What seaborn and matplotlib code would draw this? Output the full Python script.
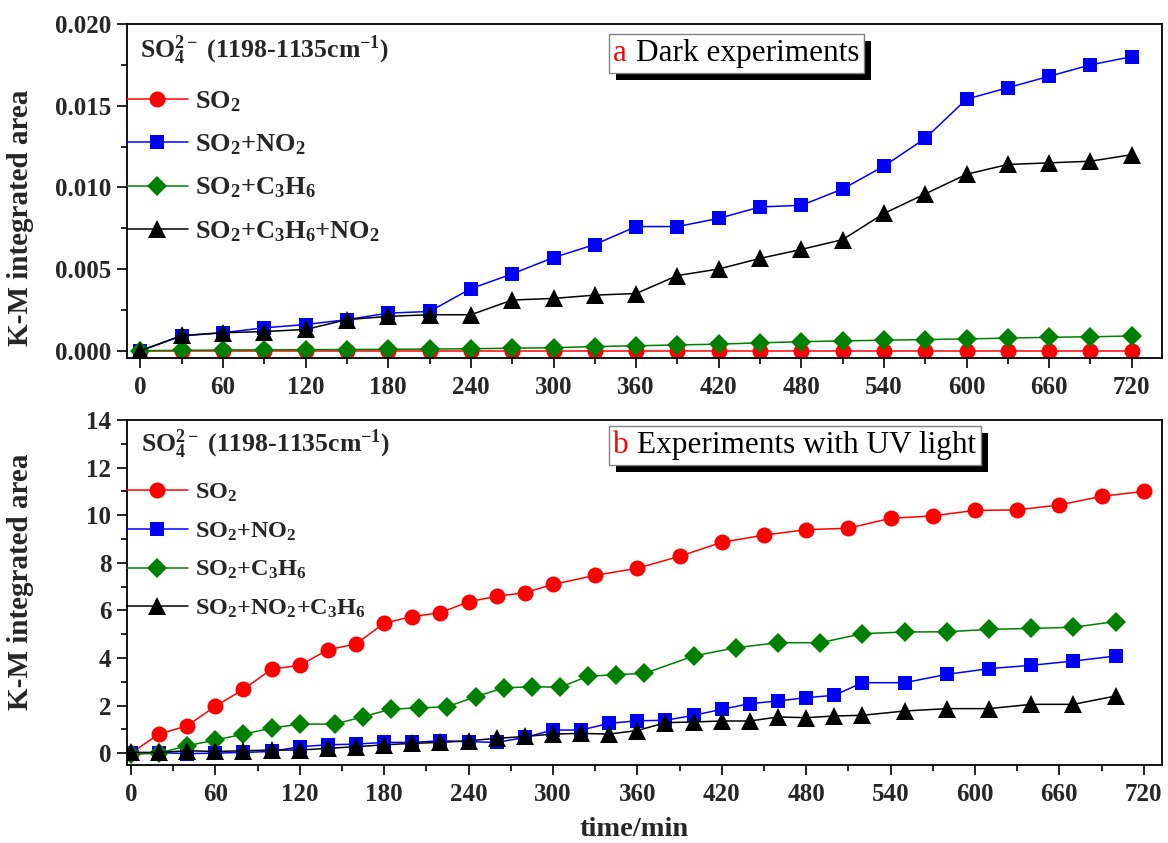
import numpy as np
import seaborn as sns
import matplotlib.pyplot as plt
import matplotlib.patheffects as pe
from matplotlib.ticker import MultipleLocator, FormatStrFormatter
from matplotlib.offsetbox import TextArea, HPacker, AnnotationBbox

# panel a - dark experiments, sampled every 30 min
dark_time = [0, 30, 60, 90, 120, 150, 180, 210, 240, 270, 300, 330, 360,
             390, 420, 450, 480, 510, 540, 570, 600, 630, 660, 690, 720]
dark_so2 = [0.0, 0.0, 0.0, 0.0, 0.0, 0.0, 0.0, 0.0, 0.0, 0.0, 0.0, 0.0, 0.0,
            0.0, 0.0, 0.0, 0.0, 0.0, 0.0, 0.0, 0.0, 0.0, 0.0, 0.0, 0.0]
dark_no2 = [0.0, 0.0009, 0.0011, 0.0014, 0.0016, 0.0019, 0.0023, 0.0024, 0.0038,
            0.0047, 0.0057, 0.0065, 0.0076, 0.0076, 0.0081, 0.0088, 0.0089, 0.0099,
            0.0113, 0.0130, 0.0154, 0.0161, 0.0168, 0.0175, 0.0180]
dark_c3h6 = [0.0, 0.00002, 0.00004, 0.00005, 0.00006, 0.00007, 0.00008, 0.0001,
             0.00012, 0.00015, 0.00018, 0.00025, 0.0003, 0.00035, 0.0004, 0.00048,
             0.00055, 0.0006, 0.00064, 0.00068, 0.00072, 0.00077, 0.00082, 0.00085, 0.0009]
dark_mix = [0.0, 0.00093, 0.0011, 0.00117, 0.0013, 0.0019, 0.0021, 0.0022, 0.0022,
            0.0031, 0.0032, 0.0034, 0.0035, 0.0046, 0.0050, 0.00565, 0.0062, 0.0068,
            0.0084, 0.0096, 0.0108, 0.0114, 0.0115, 0.0116, 0.0120]

# panel b - with UV light, each series has its own sampling times
uv_so2_time = [0, 20, 40, 60, 80, 100, 120, 140, 160, 180, 200, 220, 240, 260, 280,
               300, 330, 360, 390, 420, 450, 480, 510, 540, 570, 600, 630, 660, 690, 720]
uv_so2 = [0.0, 0.80, 1.15, 1.97, 2.68, 3.53, 3.69, 4.34, 4.59, 5.46, 5.74, 5.90, 6.36,
          6.59, 6.74, 7.09, 7.47, 7.77, 8.27, 8.86, 9.16, 9.39, 9.45, 9.87, 9.97,
          10.20, 10.22, 10.43, 10.79, 11.0]
uv_no2_time = [0, 20, 40, 60, 80, 100, 120, 140, 160, 180, 200, 220, 240, 260, 280,
               300, 320, 340, 360, 380, 400, 420, 440, 460, 480, 500, 520,
               550, 580, 610, 640, 670, 700]
uv_no2 = [0.0, 0.02, -0.02, 0.0, 0.03, 0.07, 0.27, 0.35, 0.38, 0.45, 0.45, 0.52, 0.48,
          0.45, 0.66, 0.97, 0.97, 1.25, 1.36, 1.38, 1.59, 1.84, 2.08, 2.19, 2.33, 2.43,
          2.96, 2.96, 3.31, 3.55, 3.69, 3.87, 4.08]
uv_c3h6_time = [0, 20, 40, 60, 80, 100, 120, 145, 165, 185, 205, 225, 245, 265, 285,
                305, 325, 345, 365, 400, 430, 460, 490, 520, 550, 580, 610, 640, 670, 700]
uv_c3h6 = [-0.05, 0.0, 0.31, 0.55, 0.80, 1.05, 1.22, 1.22, 1.53, 1.85, 1.90, 1.95, 2.37,
           2.74, 2.79, 2.77, 3.23, 3.30, 3.35, 4.08, 4.43, 4.64, 4.64, 5.02, 5.09, 5.10,
           5.20, 5.24, 5.29, 5.53]
uv_mix_time = uv_no2_time
uv_mix = [0.03, 0.03, 0.10, 0.07, 0.10, 0.13, 0.13, 0.20, 0.27, 0.35, 0.41, 0.45, 0.52,
          0.62, 0.70, 0.80, 0.83, 0.80, 0.95, 1.28, 1.31, 1.35, 1.35, 1.52, 1.49, 1.56,
          1.59, 1.77, 1.87, 1.87, 2.05, 2.05, 2.40]

header = r"SO$_4^{2-}$ (1198-1135cm$^{-1}$)"
colors = ["#ff0000", "#0000ff", "#008000", "#000000"]
markers = ["o", "s", "D", "^"]
msizes = [11.5, 10, 10.5, 12.5]

sns.set_theme(style="ticks")
plt.rcParams["font.family"] = ["Liberation Serif", "DejaVu Serif"]
plt.rcParams["font.weight"] = "bold"
plt.rcParams["mathtext.fontset"] = "custom"
plt.rcParams["mathtext.rm"] = "Liberation Serif:bold"
plt.rcParams["mathtext.it"] = "Liberation Serif:italic:bold"
plt.rcParams["mathtext.bf"] = "Liberation Serif:bold"
plt.rcParams["axes.linewidth"] = 1.3
plt.rcParams["axes.edgecolor"] = "black"


def draw_panel(ax, series, labels, legend_top, spacing, legend_size):
    handles = []
    for i, (x, y) in enumerate(series):
        sns.lineplot(x=x, y=y, ax=ax, color=colors[i], marker=markers[i],
                     markersize=msizes[i], markeredgecolor=colors[i], markeredgewidth=0,
                     linewidth=1.1, errorbar=None, sort=False)
        handles.append(ax.lines[-1])
    # handle length / gap kept at the same pixel size whatever the font
    ax.legend(handles, labels, loc="upper left", bbox_to_anchor=(0.0, legend_top),
              frameon=False, fontsize=legend_size, handlelength=44 / legend_size,
              handletextpad=5.5 / legend_size, labelspacing=spacing,
              borderpad=0, borderaxespad=0)
    ax.xaxis.set_major_locator(MultipleLocator(60))
    ax.xaxis.set_minor_locator(MultipleLocator(30))
    ax.tick_params(which="major", length=7, width=1.2, labelsize=18, color="black")
    ax.tick_params(which="minor", length=4, width=1.2, color="black")
    ax.tick_params(axis="x", which="major", pad=6)
    ax.tick_params(axis="y", which="major", pad=4)
    ax.set_ylabel("K-M integrated area", fontsize=21, fontweight="bold")
    ax.set_xlabel("")


def title_box(ax, x, y, letter, rest):
    # red panel letter + black caption in one white box with a hard black shadow
    props = dict(fontsize=22.5, fontweight="normal")
    ta = TextArea(letter, textprops=dict(color="red", **props))
    tb = TextArea(rest, textprops=dict(color="black", **props))
    row = HPacker(children=[ta, tb], align="baseline", pad=0, sep=6)
    ab = AnnotationBbox(row, (x, y), xycoords="axes fraction", box_alignment=(0, 1),
                        frameon=True, pad=0.08, zorder=5,
                        bboxprops=dict(boxstyle="square", facecolor="white",
                                       edgecolor="#808080", linewidth=1))
    ab.patch.set_path_effects(
        [pe.withSimplePatchShadow(offset=(5, -5), shadow_rgbFace="black", alpha=1.0)])
    ax.add_artist(ab)


fig = plt.figure(figsize=(11.68, 8.43), dpi=100)
ax1 = fig.add_axes([0.1085, 0.5753, 0.8864, 0.3962])
ax2 = fig.add_axes([0.1085, 0.0925, 0.8864, 0.4093])

draw_panel(ax1,
           [(dark_time, dark_so2), (dark_time, dark_no2),
            (dark_time, dark_c3h6), (dark_time, dark_mix)],
           ["SO$_2$", "SO$_2$+NO$_2$", "SO$_2$+C$_3$H$_6$", "SO$_2$+C$_3$H$_6$+NO$_2$"],
           0.805, 0.71, 19)
ax1.set_xlim(-10, 742)
ax1.set_ylim(-0.00045, 0.020)
ax1.yaxis.set_major_locator(MultipleLocator(0.005))
ax1.yaxis.set_minor_locator(MultipleLocator(0.0025))
ax1.yaxis.set_major_formatter(FormatStrFormatter("%.3f"))
ax1.yaxis.set_label_coords(-0.09, 0.42)
ax1.text(0.013, 0.922, header, transform=ax1.transAxes, ha="left", va="center", fontsize=18.5)
title_box(ax1, 0.47, 0.955, "a", "Dark experiments")

draw_panel(ax2,
           [(uv_so2_time, uv_so2), (uv_no2_time, uv_no2),
            (uv_c3h6_time, uv_c3h6), (uv_mix_time, uv_mix)],
           ["SO$_2$", "SO$_2$+NO$_2$", "SO$_2$+C$_3$H$_6$", "SO$_2$+NO$_2$+C$_3$H$_6$"],
           0.822, 0.68, 17.5)
ax2.set_xlim(-3, 733)
ax2.set_ylim(-0.5, 14)
ax2.yaxis.set_major_locator(MultipleLocator(2))
ax2.yaxis.set_minor_locator(MultipleLocator(1))
ax2.yaxis.set_label_coords(-0.09, 0.53)
ax2.set_xlabel("time/min", fontsize=20.5, fontweight="bold")
ax2.xaxis.set_label_coords(0.49, -0.15)
ax2.text(0.014, 0.928, header, transform=ax2.transAxes, ha="left", va="center", fontsize=18.5)
title_box(ax2, 0.47, 0.968, "b", "Experiments with UV light")

fig.savefig("out.png", dpi=100)
